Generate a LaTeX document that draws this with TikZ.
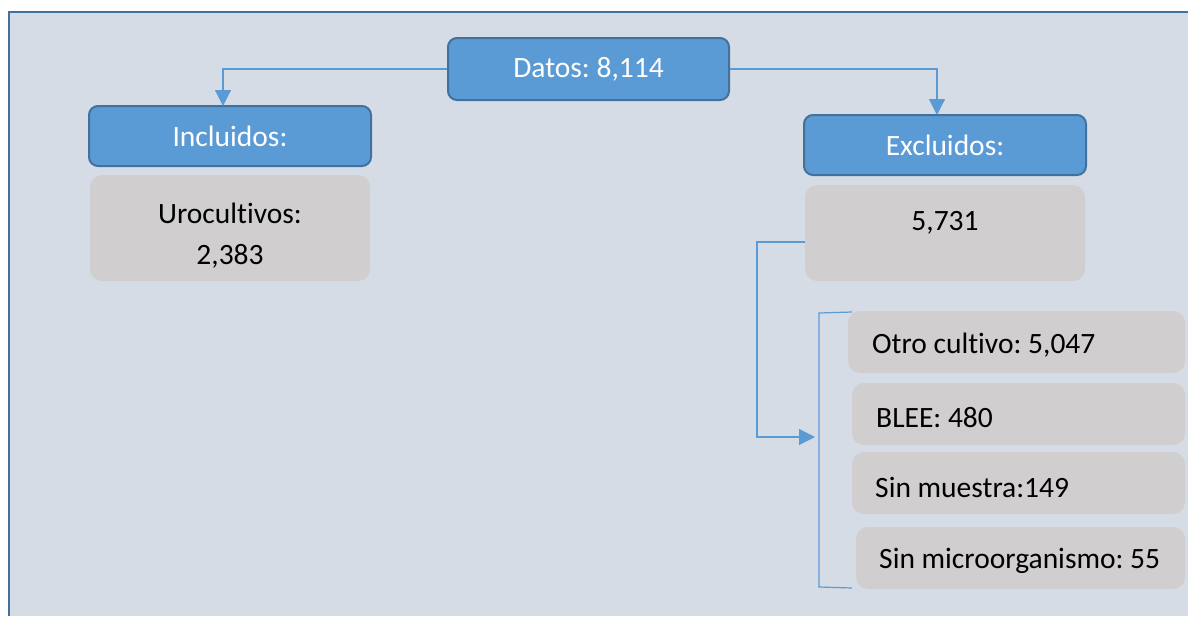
\documentclass[tikz,border=0pt]{standalone}
\usepackage{fontspec}
\setmainfont{Carlito}[Ligatures=NoCommon]
\usetikzlibrary{arrows.meta}
\definecolor{bgfill}{HTML}{D6DCE5}
\definecolor{frameblue}{HTML}{41719C}
\definecolor{boxblue}{HTML}{5B9BD5}
\definecolor{boxgray}{HTML}{D0CECE}
\frenchspacing
\tikzset{
  txt/.style={font=\fontsize{29.5}{35}\selectfont, inner sep=0pt},
  headbox/.style={draw=frameblue, line width=2pt, fill=boxblue, rounded corners=9pt, text=white, txt},
  graybox/.style={fill=boxgray, rounded corners=12pt, inner sep=0pt},
  conn/.style={draw=boxblue, line width=1.2pt},
  arr/.style={conn, -{Triangle[width=16pt,length=16pt]}}
}
\begin{document}
\begin{tikzpicture}[x=1pt,y=-1pt]
\useasboundingbox (0,0) rectangle (1188,616);
\fill[bgfill] (9,12) rectangle (1188,616);
\draw[frameblue, line width=2.2pt] (9,616) -- (9,12) -- (1188,12);
% header boxes
\node[headbox, minimum width=281pt, minimum height=62pt] (datos) at (588.5,69) {Datos: 8,114};
\node[headbox, minimum width=282pt, minimum height=60pt] (incl) at (230,136) {Incluidos:};
\node[headbox, minimum width=282pt, minimum height=60pt] (excl) at (945,145) {Excluidos:};
% gray boxes
\node[graybox, minimum width=280pt, minimum height=106pt] (uro) at (230,228) {};
\node[txt] at (230,213) (urot) {Urocultivos:};
\node[txt] at (230,256) (uron) {2,383};
\node[graybox, minimum width=280pt, minimum height=96pt] (exn) at (945,233) {};
\node[txt] at (945,223) (exnt) {5,731};
\node[graybox, minimum width=337pt, minimum height=62pt] (i1) at (1016.5,342) {};
\node[graybox, minimum width=333pt, minimum height=62pt] (i2) at (1018.5,414) {};
\node[graybox, minimum width=333pt, minimum height=62pt] (i3) at (1018.5,483) {};
\node[graybox, minimum width=329pt, minimum height=62pt] (i4) at (1020.5,558) {};
\node[txt, anchor=west] (t1) at (872,345) {Otro cultivo: 5,047};
\node[txt, anchor=west] (t2) at (876,418) {BLEE: 480};
\node[txt, anchor=west] (t3) at (875,487) {Sin muestra:149};
\node[txt, anchor=west] (t4) at (879,561) {Sin microorganismo: 55};
% bracket
\coordinate (bt) at (852,312);
\coordinate (bb) at (852,588);
\draw[conn] (bt) -- (819,313) -- (819,587) -- (bb);
\coordinate (btip) at (815,437);
% connectors
\coordinate (inTop) at (223,106);
\coordinate (exTop) at (937,115);
\draw[arr] (datos.west) -| (inTop);
\draw[arr] (datos.east) -| (exTop);
\draw[arr] (exn.west |- 0,242) -- (757,242) |- (btip);
\end{tikzpicture}
\end{document}
